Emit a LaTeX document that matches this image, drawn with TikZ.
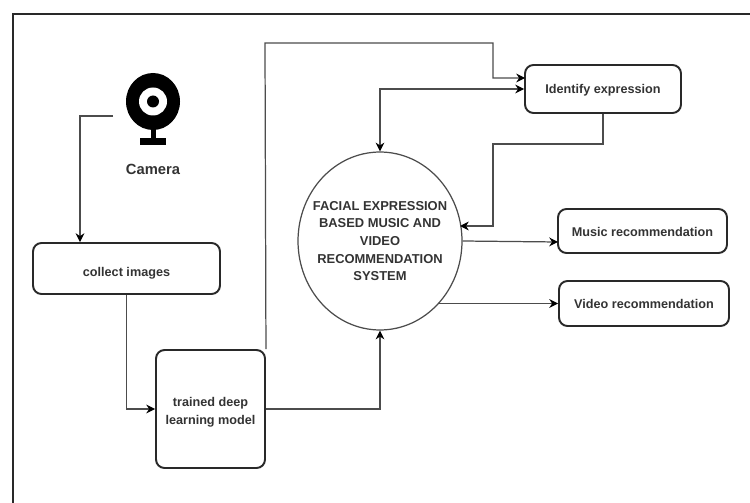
\documentclass[tikz,border=0pt]{standalone}
\usepackage{fontspec}
\setmainfont{Liberation Sans}
\usetikzlibrary{arrows.meta,shapes.geometric,calc}
\definecolor{linegray}{gray}{0.3}
\definecolor{boxgray}{gray}{0.16}
\definecolor{textgray}{gray}{0.2}
\tikzset{
  rbox/.style={draw=boxgray,line width=1.1pt,rounded corners=0.17cm,inner sep=0pt,
    align=center,font=\fontsize{7.2}{10}\selectfont\bfseries,text=textgray},
  sysnode/.style={draw=linegray,line width=0.7pt,ellipse,inner xsep=-6pt,inner ysep=0pt,
    minimum width=3.28cm,minimum height=3.56cm,align=center,
    font=\fontsize{7.35}{10}\selectfont\bfseries,text=textgray},
  conn/.style={draw=linegray,line width=0.7pt,-{Stealth[length=5pt,width=5pt,color=black]}},
}
\begin{document}
\begin{tikzpicture}[x=0.02cm,y=-0.02cm,>=Stealth]
  \useasboundingbox (0,0) rectangle (750,503);
  \fill[white] (0,0) rectangle (750,503);
  \draw[line width=1.2pt,boxgray] (13,503) -- (13,14) -- (750,14);

  % webcam
  \fill[black] (153,101.5) ellipse [x radius=27,y radius=28.5];
  \fill[white] (153,101.5) circle (14);
  \fill[black] (153,101.5) circle (6);
  \fill[black] (150.5,128) rectangle (155.5,139);
  \fill[black] (140,138) rectangle (166,145);
  \node[font=\fontsize{8.4}{10}\selectfont\bfseries,text=textgray] (camlabel) at (153,169) {Camera};
  \coordinate (camout) at (113,116);

  \node[rbox,minimum width=3.74cm,minimum height=1.02cm,text height=9pt,text depth=0pt] (collect) at (126.5,268.5) {collect images};
  \node[rbox,minimum width=2.18cm,minimum height=2.36cm] (model) at (210.5,409) {\rule{0pt}{9pt}trained deep\\learning model};
  \node[sysnode] (sys) at (380,241) {FACIAL EXPRESSION\\BASED MUSIC AND\\VIDEO\\RECOMMENDATION\\SYSTEM};
  \node[rbox,minimum width=3.12cm,minimum height=0.96cm,text height=5.2pt,text depth=0pt] (identify) at (603,89) {Identify expression};
  \node[rbox,minimum width=3.38cm,minimum height=0.88cm,text height=5.9pt,text depth=0pt] (music) at (642.5,231) {Music recommendation};
  \node[rbox,minimum width=3.40cm,minimum height=0.90cm,text height=5.2pt,text depth=0pt] (video) at (644,303.5) {Video recommendation};

  \coordinate (topleft) at (265,43);
  \coordinate (topright) at (493,43);
  \coordinate (idin) at (525,78);
  \coordinate (turn) at (493,144);
  \coordinate (sysin) at (460,226);
  \coordinate (musicin) at (558,242);

  \draw[conn] (camout) -| (collect.north -| 80,0);
  \draw[conn] (collect.south) |- (model.west);
  \draw[conn] (model.east) -| (sys.south);
  \draw[conn] (model.north east) -- (topleft) -- (topright) |- (idin);
  \draw[conn,{Stealth[length=5pt,width=5pt,color=black]}-{Stealth[length=5pt,width=5pt,color=black]}] (identify.west) -| (sys.north);
  \draw[conn] (identify.south) |- (turn) |- (sysin);
  \draw[conn] (sys.east) -- (musicin);
  \draw[conn] (sys.south east |- video.west) -- (video.west);
\end{tikzpicture}
\end{document}
